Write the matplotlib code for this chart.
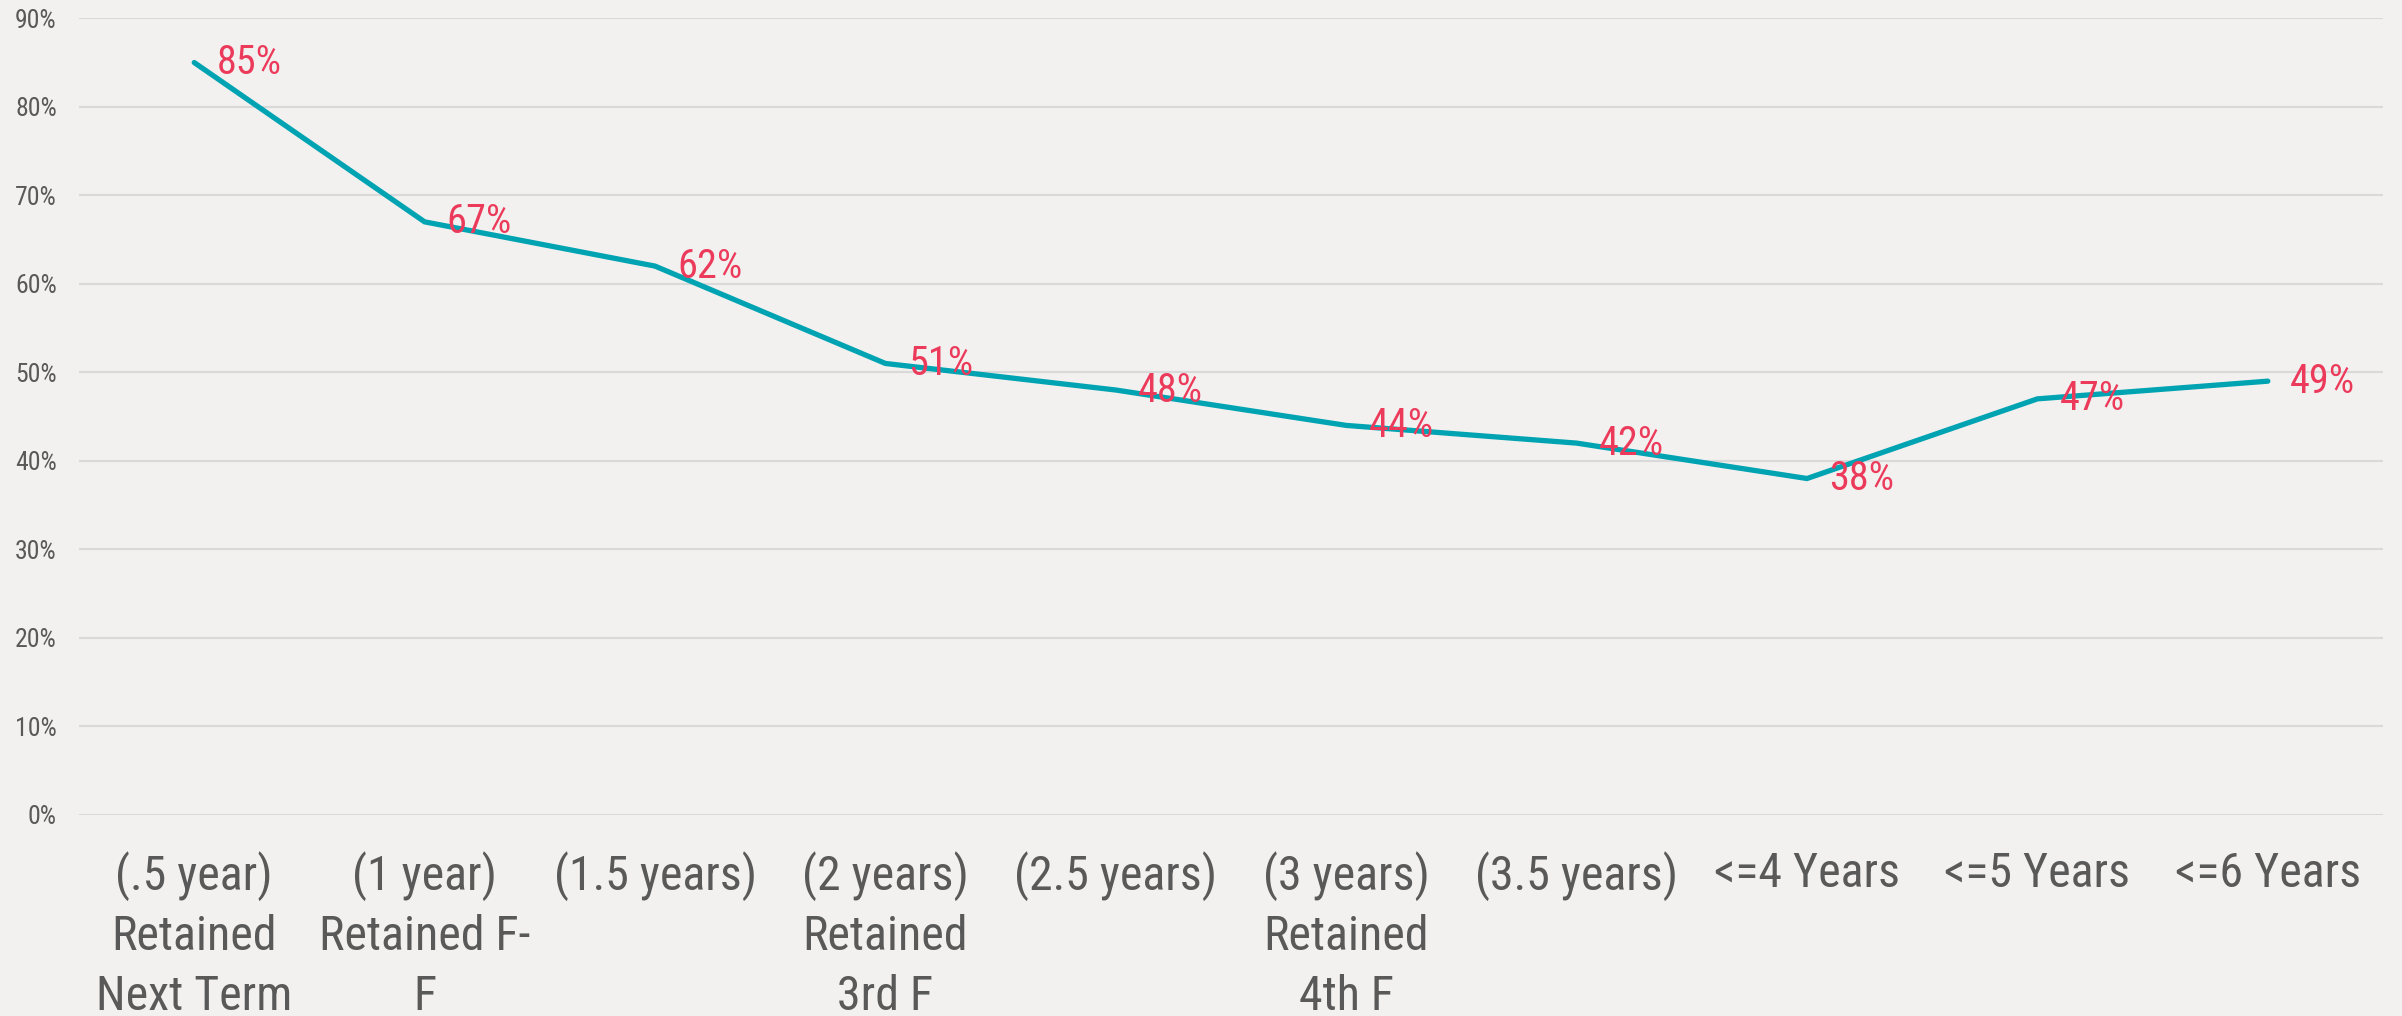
import matplotlib
matplotlib.use("Agg")
import matplotlib.pyplot as plt
from matplotlib.ticker import FuncFormatter

# Retention rates by cohort milestone
categories = [
    "(.5 year)\nRetained\nNext Term",
    "(1 year)\nRetained F-\nF",
    "(1.5 years)",
    "(2 years)\nRetained\n3rd F",
    "(2.5 years)",
    "(3 years)\nRetained\n4th F",
    "(3.5 years)",
    "<=4 Years",
    "<=5 Years",
    "<=6 Years",
]
retention = [0.85, 0.67, 0.62, 0.51, 0.48, 0.44, 0.42, 0.38, 0.47, 0.49]
y_ticks = [0.0, 0.1, 0.2, 0.3, 0.4, 0.5, 0.6, 0.7, 0.8, 0.9]

FONT = ["Roboto Condensed", "Open Sans Condensed", "Liberation Sans Narrow",
        "Roboto", "DejaVu Sans"]
plt.rcParams["font.family"] = FONT

BG = "#F2F1EF"
LINE = "#00A3B2"
LABEL = "#EC3A5B"
TEXT = "#595959"
GRID = "#D9D9D9"

fig = plt.figure(figsize=(24.02, 10.16), dpi=100, facecolor=BG)
ax = fig.add_axes([0.0329, 0.198, 0.9592, 0.784], facecolor=BG)

x = list(range(len(categories)))
ax.plot(x, retention, color=LINE, linewidth=3.8, solid_capstyle="round",
        solid_joinstyle="miter", zorder=3)

for xi, v in zip(x, retention):
    ax.annotate(f"{round(v * 100)}%", (xi, v), xytext=(16, 0),
                textcoords="offset points", ha="left", va="center",
                fontsize=29, color=LABEL, zorder=4)

ax.set_xlim(-0.5, len(categories) - 0.5)
ax.set_ylim(0, 0.9)
ax.set_yticks(y_ticks)
ax.yaxis.set_major_formatter(FuncFormatter(lambda v, _: f"{round(v * 100)}%"))
ax.set_xticks(x)
ax.set_xticklabels(categories, fontsize=34.5, color=TEXT, linespacing=1.38)

ax.grid(axis="y", color=GRID, linewidth=1.5)
ax.set_axisbelow(True)
for s in ax.spines.values():
    s.set_visible(False)
ax.tick_params(axis="x", length=0, pad=26)
ax.tick_params(axis="y", length=0, pad=16, labelsize=18.5, labelcolor=TEXT)

fig.savefig("out.png", dpi=100, facecolor=BG)
